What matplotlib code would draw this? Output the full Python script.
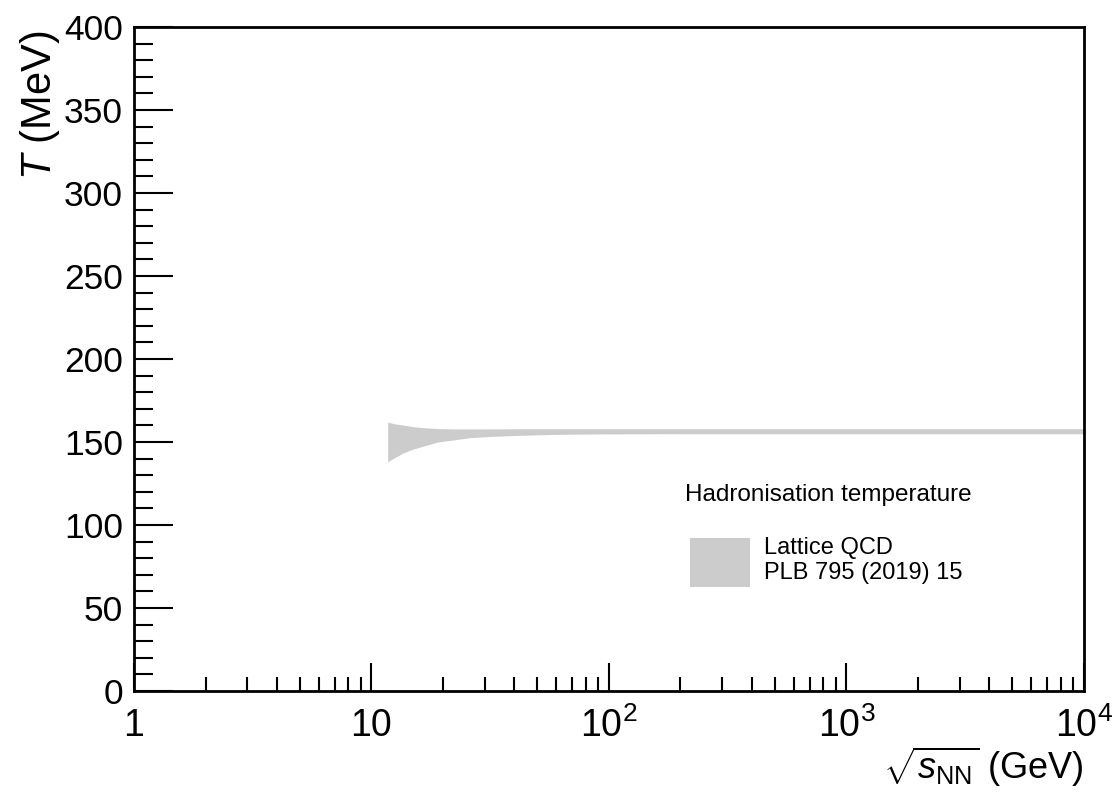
import matplotlib.pyplot as plt
from matplotlib.patches import Rectangle
from matplotlib.ticker import FixedLocator, FixedFormatter, LogLocator, MultipleLocator, NullFormatter

plt.rcParams['font.family'] = ['Liberation Sans', 'DejaVu Sans']
plt.rcParams['mathtext.fontset'] = 'custom'
plt.rcParams['mathtext.rm'] = 'Liberation Sans'
plt.rcParams['mathtext.it'] = 'Liberation Sans:italic'

# Lattice QCD hadronisation temperature band vs collision energy
sqrt_snn = [11.7, 12.5, 13.6, 15, 16.5, 19, 22, 26, 32, 42, 55, 70, 100, 200, 500, 1000, 10000]
t_upper = [162, 161, 160.2, 159.2, 158.6, 158.1, 157.9, 157.9, 157.9, 158.0, 158.0, 158.0, 158.0, 158.0, 158.0, 158.0, 158.0]
t_lower = [138, 140.5, 143.4, 145.8, 147.5, 150, 151.2, 152.6, 153.4, 154, 154.5, 154.7, 154.9, 155.0, 155.0, 155.0, 155.0]

band_color = '#cccccc'

fig = plt.figure(figsize=(11.14, 7.94), dpi=100)
ax = fig.add_axes([0.1203, 0.1297, 0.8527, 0.8363])

ax.fill_between(sqrt_snn, t_lower, t_upper, color=band_color, linewidth=0)

ax.set_xscale('log')
ax.set_xlim(1, 1e4)
ax.set_ylim(0, 400)

# x axis ticks
ax.xaxis.set_major_locator(FixedLocator([1, 10, 100, 1000, 10000]))
ax.xaxis.set_major_formatter(FixedFormatter(['1', '10', r'$10^{2}$', r'$10^{3}$', r'$10^{4}$']))
ax.xaxis.set_minor_locator(LogLocator(base=10, subs=range(2, 10)))
ax.xaxis.set_minor_formatter(NullFormatter())
ax.tick_params(axis='x', which='major', direction='in', length=20, width=1.5, labelsize=27, pad=12)
ax.tick_params(axis='x', which='minor', direction='in', length=10, width=1.5)

# y axis ticks
ax.yaxis.set_major_locator(MultipleLocator(50))
ax.yaxis.set_minor_locator(MultipleLocator(10))
ax.tick_params(axis='y', which='major', direction='in', length=28, width=1.5, labelsize=25.5, pad=8)
ax.tick_params(axis='y', which='minor', direction='in', length=14, width=1.5)

for spine in ax.spines.values():
    spine.set_linewidth(2)

ax.set_xlabel(r'$\sqrt{s_{\mathrm{NN}}}$ (GeV)', fontsize=26, loc='right', labelpad=0)
ax.set_ylabel(r'$T$ (MeV)', fontsize=30, loc='top')
ax.yaxis.set_label_coords(-0.076, 0.995)

# legend
ax.text(0.58, 0.295, 'Hadronisation temperature', transform=ax.transAxes,
        fontsize=17.5, ha='left', va='center')
ax.add_patch(Rectangle((0.585, 0.157), 0.063, 0.074, transform=ax.transAxes,
                       facecolor=band_color, edgecolor='none'))
ax.text(0.663, 0.215, 'Lattice QCD', transform=ax.transAxes,
        fontsize=17, ha='left', va='center')
ax.text(0.663, 0.178, 'PLB 795 (2019) 15', transform=ax.transAxes,
        fontsize=17, ha='left', va='center')

plt.savefig('out.png', dpi=100)
